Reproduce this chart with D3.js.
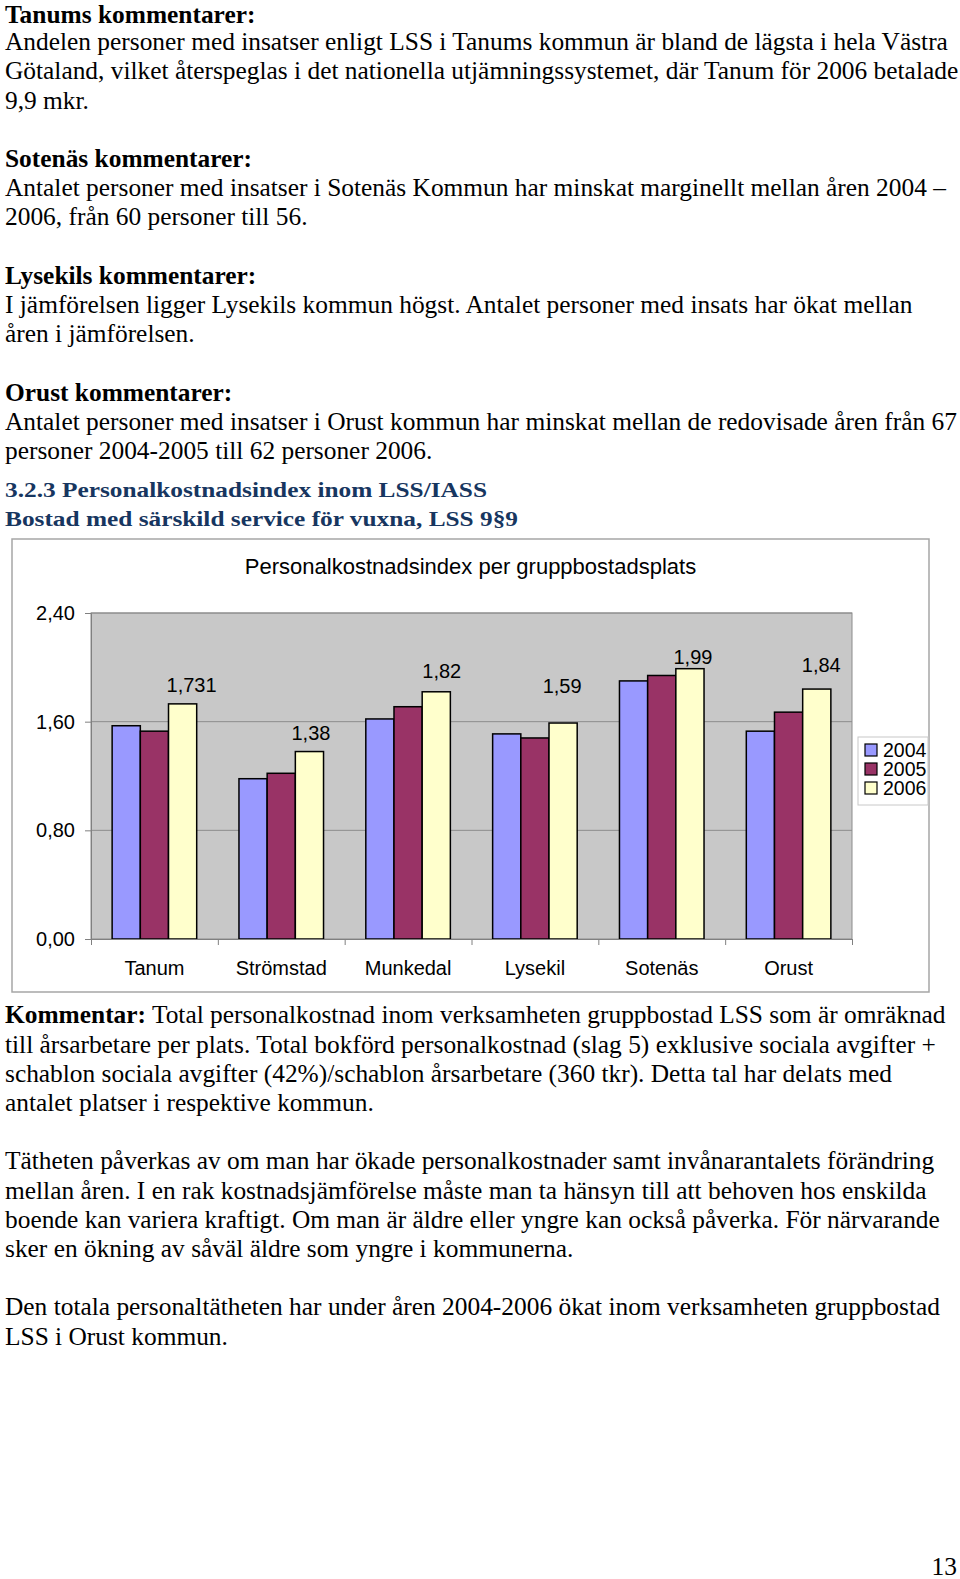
<!DOCTYPE html>
<html><head><meta charset="utf-8">
<script src="https://cdn.jsdelivr.net/npm/d3@7"></script>
<style>
html,body{margin:0;padding:0;background:#fff;}
svg{display:block;}
</style></head>
<body>
<svg id="page" width="960" height="1579"></svg>
<script>
// ---- chart data ----
const categories = ["Tanum", "Strömstad", "Munkedal", "Lysekil", "Sotenäs", "Orust"];
const years = ["2004", "2005", "2006"];
const values2004 = [1.57, 1.18, 1.62, 1.51, 1.90, 1.53];
const values2005 = [1.53, 1.22, 1.71, 1.48, 1.94, 1.67];
const values2006 = [1.731, 1.38, 1.82, 1.59, 1.99, 1.84];
const labels2006 = ["1,731", "1,38", "1,82", "1,59", "1,99", "1,84"];
const yTicks = [0, 0.8, 1.6, 2.4];
const yTickLabels = ["0,00", "0,80", "1,60", "2,40"];
const chartTitle = "Personalkostnadsindex per gruppbostadsplats";

// ---- text content ----
const topText = [
  {b: "Tanums kommentarer:"},
  {t: "Andelen personer med insatser enligt LSS i Tanums kommun är bland de lägsta i hela Västra"},
  {t: "Götaland, vilket återspeglas i det nationella utjämningssystemet, där Tanum för 2006 betalade"},
  {t: "9,9 mkr."},
  null,
  {b: "Sotenäs kommentarer:"},
  {t: "Antalet personer med insatser i Sotenäs Kommun har minskat marginellt mellan åren 2004 –"},
  {t: "2006, från 60 personer till 56."},
  null,
  {b: "Lysekils kommentarer:"},
  {t: "I jämförelsen ligger Lysekils kommun högst. Antalet personer med insats har ökat mellan"},
  {t: "åren i jämförelsen."},
  null,
  {b: "Orust kommentarer:"},
  {t: "Antalet personer med insatser i Orust kommun har minskat mellan de redovisade åren från 67"},
  {t: "personer 2004-2005 till 62 personer 2006."}
];
const headingLines = ["3.2.3 Personalkostnadsindex inom LSS/IASS", "Bostad med särskild service för vuxna, LSS 9§9"];
const bottomText = [
  {b: "Kommentar:", t: " Total personalkostnad inom verksamheten gruppbostad LSS som är omräknad"},
  {t: "till årsarbetare per plats. Total bokförd personalkostnad (slag 5) exklusive sociala avgifter +"},
  {t: "schablon sociala avgifter (42%)/schablon årsarbetare (360 tkr). Detta tal har delats med"},
  {t: "antalet platser i respektive kommun."},
  null,
  {t: "Tätheten påverkas av om man har ökade personalkostnader samt invånarantalets förändring"},
  {t: "mellan åren. I en rak kostnadsjämförelse måste man ta hänsyn till att behoven hos enskilda"},
  {t: "boende kan variera kraftigt. Om man är äldre eller yngre kan också påverka. För närvarande"},
  {t: "sker en ökning av såväl äldre som yngre i kommunerna."},
  null,
  {t: "Den totala personaltätheten har under åren 2004-2006 ökat inom verksamheten gruppbostad"},
  {t: "LSS i Orust kommun."}
];

const svg = d3.select("#page");
svg.append("rect").attr("width", 960).attr("height", 1579).attr("fill", "#fff");

const serif = "'Liberation Serif','Times New Roman',serif";
const sans = "'Liberation Sans',Arial,Helvetica,sans-serif";
const lineH = 29.2;

function writeBlock(lines, y0, firstMin) {
  const g = svg.append("g").attr("font-family", serif).attr("font-size", 25.4).attr("fill", "#000");
  lines.forEach((ln, i) => {
    if (!ln) return;
    let yy = y0 + i * lineH;
    if (i === 0 && firstMin) yy = Math.max(yy, firstMin);
    const t = g.append("text").attr("x", 5).attr("y", yy);
    if (ln.b) t.append("tspan").attr("font-weight", "bold").text(ln.b);
    if (ln.t) t.append("tspan").text(ln.t);
  });
}
writeBlock(topText, 21, 23);
writeBlock(bottomText, 1023.4);

// headings
const hg = svg.append("g").attr("font-family", serif).attr("font-weight", "bold")
  .attr("font-size", 21).attr("fill", "#173660");
const headW = [482, 513];
headingLines.forEach((s, i) => {
  hg.append("text").attr("x", 5).attr("y", 497 + i * 28.5)
    .attr("textLength", headW[i]).attr("lengthAdjust", "spacingAndGlyphs").text(s);
});

// page number
svg.append("text").attr("x", 957).attr("y", 1575).attr("text-anchor", "end")
  .attr("font-family", serif).attr("font-size", 25.4).text("13");

// ---- chart ----
const outer = {x: 12, y: 539, w: 917, h: 453};
svg.append("rect").attr("x", outer.x).attr("y", outer.y).attr("width", outer.w).attr("height", outer.h)
  .attr("fill", "#fff").attr("stroke", "#a6a6a6").attr("stroke-width", 1.5);

const plot = {l: 91, t: 613, r: 852, b: 939};
const x0 = d3.scaleBand().domain(categories).range([plot.l, plot.r]).paddingInner(1/3).paddingOuter(1/6);
const x1 = d3.scaleBand().domain(years).range([0, x0.bandwidth()]);
const y = d3.scaleLinear().domain([0, 2.4]).range([plot.b, plot.t]);
const colors = d3.scaleOrdinal().domain(years).range(["#9999ff", "#993366", "#ffffcc"]);

svg.append("rect").attr("x", plot.l).attr("y", plot.t).attr("width", plot.r - plot.l).attr("height", plot.b - plot.t)
  .attr("fill", "#c8c8c8").attr("stroke", "#8c8c8c").attr("stroke-width", 1);

// gridlines
svg.append("g").selectAll("line").data(yTicks.filter(d => d > 0)).join("line")
  .attr("x1", plot.l).attr("x2", plot.r).attr("y1", d => y(d)).attr("y2", d => y(d))
  .attr("stroke", "#8c8c8c").attr("stroke-width", 1);

// y axis
const yAxis = d3.axisLeft(y).tickValues(yTicks).tickSize(6).tickPadding(10)
  .tickFormat((d, i) => yTickLabels[i]);
const ya = svg.append("g").attr("transform", `translate(${plot.l},0)`).call(yAxis);
ya.select(".domain").attr("stroke", "#808080");
ya.selectAll(".tick line").attr("stroke", "#808080");
ya.selectAll("text").attr("font-family", sans).attr("font-size", 20).attr("fill", "#000");

// bars
const series = [values2004, values2005, values2006];
const barData = [];
categories.forEach((c, i) => years.forEach((yr, j) => barData.push({c, yr, v: series[j][i]})));
svg.append("g").selectAll("rect").data(barData).join("rect")
  .attr("x", d => x0(d.c) + x1(d.yr)).attr("width", x1.bandwidth())
  .attr("y", d => y(d.v)).attr("height", d => y(0) - y(d.v))
  .attr("fill", d => colors(d.yr)).attr("stroke", "#000").attr("stroke-width", 1.5);

// x axis
const xAxis = d3.axisBottom(d3.scaleLinear().domain([0, categories.length]).range([plot.l, plot.r]))
  .tickValues(d3.range(categories.length + 1)).tickSize(6).tickFormat("");
const xa = svg.append("g").attr("transform", `translate(0,${plot.b})`).call(xAxis);
xa.select(".domain").attr("stroke", "#808080");
xa.selectAll(".tick line").attr("stroke", "#808080");
svg.append("g").selectAll("text").data(categories).join("text")
  .attr("x", d => x0(d) + x0.bandwidth() / 2).attr("y", plot.b + 36)
  .attr("text-anchor", "middle").attr("font-family", sans).attr("font-size", 20).text(d => d);

// data labels on 2006 bars
const labelDx = [9, 1.5, 5.5, -1, 3, 4.5];
const labelDy = [-12, -12, -14, -30, -5, -17];
svg.append("g").selectAll("text").data(categories).join("text")
  .attr("x", (d, i) => x0(d) + x1("2006") + x1.bandwidth() / 2 + labelDx[i])
  .attr("y", (d, i) => y(values2006[i]) + labelDy[i])
  .attr("text-anchor", "middle").attr("font-family", sans).attr("font-size", 20)
  .text((d, i) => labels2006[i]);

// title
svg.append("text").attr("x", (241 + 700) / 2).attr("y", 574).attr("text-anchor", "middle")
  .attr("font-family", sans).attr("font-size", 22).text(chartTitle);

// legend
const lg = svg.append("g").attr("transform", "translate(858,737)");
lg.append("rect").attr("width", 70).attr("height", 68).attr("fill", "#fff").attr("stroke", "#c8c8c8");
lg.selectAll("g").data(years).join("g").attr("transform", (d, i) => `translate(7,${13 + i * 19})`)
  .each(function(d) {
    const g = d3.select(this);
    g.append("rect").attr("x", 0).attr("y", -6).attr("width", 12).attr("height", 12)
      .attr("fill", colors(d)).attr("stroke", "#000").attr("stroke-width", 1.2);
    g.append("text").attr("x", 18).attr("y", 7).attr("font-family", sans).attr("font-size", 19.5).text(d);
  });
</script>
</body></html>
